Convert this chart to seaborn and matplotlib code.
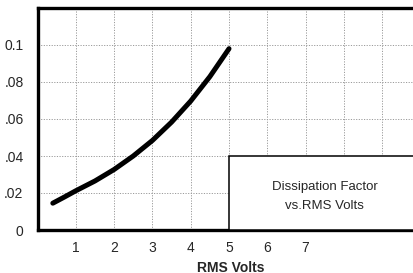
import matplotlib
matplotlib.use("Agg")
import matplotlib.pyplot as plt
import seaborn as sns
import pandas as pd
from matplotlib.patches import Rectangle

volts = [0.4, 0.7, 1.0, 1.5, 2.0, 2.5, 3.0, 3.5, 4.0, 4.5, 5.0]
dissipation = [0.0145, 0.0178, 0.0212, 0.0265, 0.0327, 0.0400, 0.0484, 0.0583, 0.0697, 0.0829, 0.0980]
x_ticks = [1, 2, 3, 4, 5, 6, 7]
y_ticks = [0, 0.02, 0.04, 0.06, 0.08, 0.1]
y_tick_labels = ["0", ".02", ".04", ".06", ".08", "0.1"]

sns.set_theme(style="white")
plt.rcParams["font.family"] = ["Liberation Sans", "DejaVu Sans"]

W, H = 413, 273
fig = plt.figure(figsize=(W / 100, H / 100), dpi=100)
left, right, top, bottom = 37.5, 413, 8, 230
ax = fig.add_axes([left / W, (H - bottom) / H, (right - left) / W, (bottom - top) / H])

df = pd.DataFrame({"v": volts, "d": dissipation})
sns.lineplot(data=df, x="v", y="d", ax=ax, color="black", linewidth=3.6, zorder=3,
             solid_capstyle="round", solid_joinstyle="round")

xmax = (right - left) / 38.3
ax.set_xlim(0, xmax)
ax.set_ylim(0, 0.12)

ax.set_xticks(list(range(1, 10)))
ax.set_xticklabels([str(t) if t in x_ticks else "" for t in range(1, 10)], fontsize=10)
ax.set_yticks(y_ticks + [0.12])
ax.set_yticklabels(y_tick_labels + [""], fontsize=10)
ax.tick_params(axis="both", length=0, pad=8)
ax.tick_params(axis="y", pad=10)

ax.grid(True, color="#9a9a9a", linestyle=(0, (1.2, 1.5)), linewidth=0.7)
ax.set_axisbelow(True)

for s in ["left", "top", "bottom"]:
    ax.spines[s].set_visible(True)
    ax.spines[s].set_color("black")
    ax.spines[s].set_linewidth(2.4)
ax.spines["right"].set_visible(False)

ax.add_patch(Rectangle((5, 0), xmax - 5 + 1, 0.04, facecolor="white", edgecolor="black",
                       linewidth=1.1, zorder=4, clip_on=False))
ax.text(7.5, 0.0232, "Dissipation Factor", ha="center", va="center", fontsize=9.5, zorder=5)
ax.text(7.5, 0.0131, "vs.RMS Volts", ha="center", va="center", fontsize=9.5, zorder=5)

ax.set_xlabel("")
ax.set_ylabel("")
fig.text(231 / W, 1 - 260.5 / H, "RMS Volts", ha="center", va="top", fontsize=10, fontweight="bold")

fig.savefig("out.png", dpi=100)
